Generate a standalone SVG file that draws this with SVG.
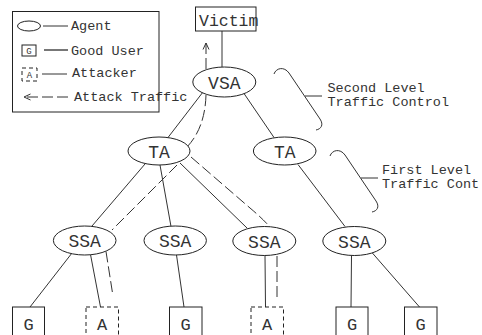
<svg xmlns="http://www.w3.org/2000/svg" width="482" height="335" viewBox="0 0 482 335">
  <style>
    .ln { stroke: #333; stroke-width: 1; fill: none; }
    .atk { stroke: #333; stroke-width: 1; fill: none; stroke-dasharray: 11 4; }
    .node { fill: #fff; stroke: #222; stroke-width: 1; }
    .box { fill: #fff; stroke: #222; stroke-width: 1; }
    .dbox { fill: #fff; stroke: #222; stroke-width: 1; stroke-dasharray: 4 3; }
    .mono { font-family: "Liberation Mono", "Courier New", monospace; fill: #333; }
    .lbl { font-size: 18px; text-anchor: middle; }
    .leaf { font-size: 17px; text-anchor: middle; }
    .note { font-size: 13.5px; }
  </style>
  <defs>
    <marker id="head" viewBox="0 0 8 8" refX="7.5" refY="4" markerWidth="8" markerHeight="8" markerUnits="userSpaceOnUse" orient="auto">
      <path d="M1,1 L7.5,4 L1,7" fill="none" stroke="#333" stroke-width="1"/>
    </marker>
  </defs>
  <rect width="482" height="335" fill="#fff"/>

  <!-- legend -->
  <g id="legend">
    <rect x="12.5" y="11.5" width="146.5" height="100.5" fill="none" stroke="#222"/>
    <ellipse cx="29" cy="26" rx="11.5" ry="5" class="node"/>
    <line x1="43" y1="26" x2="68" y2="26" class="ln"/>
    <text x="71" y="29.5" class="mono note">Agent</text>
    <rect x="22" y="45" width="14" height="11" class="box"/>
    <text x="29" y="54" class="mono" font-size="9" text-anchor="middle">G</text>
    <line x1="44" y1="50" x2="68" y2="50" stroke="#555" stroke-width="1.6"/>
    <text x="71" y="54.5" class="mono note">Good User</text>
    <rect x="22" y="68" width="15" height="13" class="dbox" stroke-dasharray="3 2"/>
    <text x="29.5" y="78" class="mono" font-size="9" text-anchor="middle">A</text>
    <line x1="42" y1="74" x2="67" y2="74" class="ln"/>
    <text x="72" y="77" class="mono note">Attacker</text>
    <line x1="68" y1="97" x2="24" y2="97" class="atk" stroke-dasharray="12 4" marker-end="url(#head)"/>
    <text x="74" y="100.5" class="mono note">Attack Traffic</text>
  </g>

  <!-- connectors -->
  <g id="connectors">
    <line x1="222" y1="31" x2="222" y2="67" class="ln"/>
    <line x1="203" y1="92" x2="168" y2="137.5" class="ln"/>
    <line x1="244" y1="93.5" x2="274" y2="137.5" class="ln"/>
    <line x1="145" y1="164" x2="92" y2="226" class="ln"/>
    <line x1="160" y1="165" x2="171" y2="226.5" class="ln"/>
    <line x1="180" y1="163" x2="247" y2="228" class="ln"/>
    <line x1="298" y1="164.5" x2="345" y2="226.5" class="ln"/>
    <line x1="72" y1="253" x2="30" y2="307" class="ln"/>
    <line x1="90.5" y1="254.5" x2="100.5" y2="307" class="ln"/>
    <line x1="176.5" y1="255" x2="184" y2="307" class="ln"/>
    <line x1="265" y1="255.5" x2="265.5" y2="307" class="ln"/>
    <line x1="351.5" y1="255.5" x2="351" y2="307" class="ln"/>
    <line x1="371.5" y1="252" x2="419.5" y2="307" class="ln"/>

    <!-- attack traffic paths -->
    <line x1="206" y1="69" x2="206" y2="43" class="atk" marker-end="url(#head)"/>
    <path d="M206,95 Q205,128 187,147" class="atk"/>
    <path d="M177,165 L112,230" class="atk"/>
    <path d="M191,157 L250,208 Q262,218 270,227" class="atk"/>
    <line x1="106" y1="251.5" x2="112.5" y2="293" class="atk"/>
    <line x1="277" y1="256" x2="277" y2="297" class="atk"/>

    <!-- level braces -->
    <path d="M274,74 C276,68 284,66 289,73 L320,119 C324,125 321,129 316,130" class="ln"/>
    <line x1="305" y1="96" x2="322" y2="96" class="ln"/>
    <path d="M330,156 C332,150 340,148 345,155 L376,201 C380,207 377,211 372,212" class="ln"/>
    <line x1="361" y1="178" x2="378" y2="178" class="ln"/>
  </g>

  <g id="level2-label">
    <text x="327.5" y="92" class="mono note">Second Level</text>
    <text x="327.5" y="106" class="mono note">Traffic Control</text>
  </g>
  <g id="level1-label">
    <text x="382" y="174" class="mono note">First Level</text>
    <text x="382" y="188" class="mono note">Traffic Cont</text>
  </g>

  <!-- nodes -->
  <g id="victim">
    <rect x="195.5" y="7" width="60.5" height="24" class="box"/>
    <text x="199" y="26" class="mono" font-size="16.5">Victim</text>
  </g>
  <g id="vsa">
    <ellipse cx="224.3" cy="82" rx="31.5" ry="15" class="node"/>
    <text x="224.3" y="88.5" class="mono lbl">VSA</text>
  </g>
  <g id="ta-left">
    <ellipse cx="159" cy="151" rx="31" ry="14" class="node"/>
    <text x="159" y="157.5" class="mono lbl">TA</text>
  </g>
  <g id="ta-right">
    <ellipse cx="284.7" cy="151" rx="31.3" ry="14" class="node"/>
    <text x="284.7" y="157.5" class="mono lbl">TA</text>
  </g>
  <g id="ssa-1">
    <ellipse cx="84.7" cy="240.5" rx="31.3" ry="14.5" class="node"/>
    <text x="84.7" y="247" class="mono lbl">SSA</text>
  </g>
  <g id="ssa-2">
    <ellipse cx="175.2" cy="240.5" rx="31.2" ry="14.5" class="node"/>
    <text x="175.2" y="247" class="mono lbl">SSA</text>
  </g>
  <g id="ssa-3">
    <ellipse cx="264.3" cy="241" rx="31.5" ry="14.5" class="node"/>
    <text x="264.3" y="247.5" class="mono lbl">SSA</text>
  </g>
  <g id="ssa-4">
    <ellipse cx="354.3" cy="241" rx="31.5" ry="14.5" class="node"/>
    <text x="354.3" y="247.5" class="mono lbl">SSA</text>
  </g>

  <g id="good-1">
    <rect x="12.5" y="307" width="32" height="40" class="box"/>
    <text x="28.5" y="329.5" class="mono leaf">G</text>
  </g>
  <g id="attacker-1">
    <rect x="86" y="307" width="32.5" height="40" class="dbox"/>
    <text x="102.2" y="329.5" class="mono leaf">A</text>
  </g>
  <g id="good-2">
    <rect x="169.5" y="307" width="32.5" height="40" class="box"/>
    <text x="185.7" y="329.5" class="mono leaf">G</text>
  </g>
  <g id="attacker-2">
    <rect x="251" y="307" width="32.5" height="40" class="dbox"/>
    <text x="267.2" y="329.5" class="mono leaf">A</text>
  </g>
  <g id="good-3">
    <rect x="336" y="307" width="32" height="40" class="box"/>
    <text x="352" y="329.5" class="mono leaf">G</text>
  </g>
  <g id="good-4">
    <rect x="404.5" y="307" width="32.5" height="40" class="box"/>
    <text x="420.7" y="329.5" class="mono leaf">G</text>
  </g>
</svg>
